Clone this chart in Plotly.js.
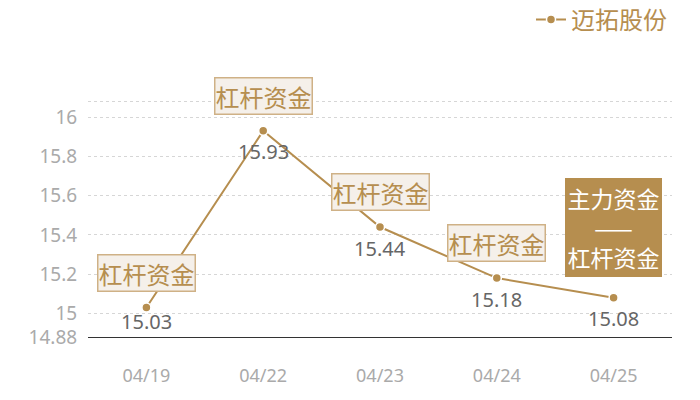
<!DOCTYPE html>
<html>
<head>
<meta charset="utf-8">
<script src="https://cdn.plot.ly/plotly-3.0.1.min.js"></script>
<style>
  body { margin: 0; background: #fff; }
  #myDiv { width: 700px; height: 400px; }
</style>
</head>
<body>
<div id="myDiv"></div>
<script>
const dates = ["04/19", "04/22", "04/23", "04/24", "04/25"]
const prices = [15.03, 15.93, 15.44, 15.18, 15.08]
const tags = ["杠杆资金", "杠杆资金", "杠杆资金", "杠杆资金", "主力资金<br>——<br>杠杆资金"]
const yTicks = [14.88, 15, 15.2, 15.4, 15.6, 15.8, 16, 16.08]
const yTickText = ["14.88", "15", "15.2", "15.4", "15.6", "15.8", "16", ""]
const seriesName = "迈拓股份"

const gold = "#b68e4f"
const cjk = "'Noto Sans CJK SC', 'Noto Sans', sans-serif"
const num = "'Noto Sans', 'Open Sans', sans-serif"

const trace = {
  x: dates,
  y: prices,
  name: seriesName,
  type: "scatter",
  mode: "lines+markers",
  line: { color: gold, width: 2 },
  marker: { color: gold, size: 9, line: { color: "#fff", width: 1.5 } },
  showlegend: true,
  hoverinfo: "skip",
}

let annotations = []

// value labels under points
for (let i = 0; i < dates.length; i++) {
  annotations.push({
    x: dates[i],
    y: prices[i],
    text: prices[i].toFixed(2),
    showarrow: false,
    yshift: i == 0 ? -14 : -21,
    font: { family: num, size: 20, color: "#666" },
  })
}

// tag boxes above points
for (let i = 0; i < dates.length; i++) {
  const last = i == dates.length - 1
  annotations.push({
    x: dates[i],
    y: prices[i],
    text: tags[i],
    showarrow: false,
    yshift: last ? 70 : 35,
    font: { family: cjk, size: last ? 23 : 24, color: last ? "#fff" : gold },
    bgcolor: last ? gold : "#f5f0ea",
    bordercolor: last ? gold : "#cfb186",
    borderwidth: 1.5,
    borderpad: last ? 1 : 0,
    align: "center",
  })
}

const layout = {
  width: 700,
  height: 400,
  margin: { l: 88, r: 28, t: 100, b: 63, autoexpand: false },
  paper_bgcolor: "#fff",
  plot_bgcolor: "#fff",
  xaxis: {
    type: "category",
    range: [-0.5, 4.5],
    showgrid: false,
    zeroline: false,
    showline: true,
    linecolor: "#333",
    linewidth: 1.2,
    ticks: "outside",
    ticklen: 22,
    tickcolor: "rgba(0,0,0,0)",
    tickfont: { family: num, size: 18, color: "#aaa" },
    fixedrange: true,
  },
  yaxis: {
    range: [14.88, 16.087],
    tickvals: yTicks,
    ticktext: yTickText,
    showgrid: true,
    gridcolor: "#d6d6d6",
    griddash: "dot",
    gridwidth: 1,
    zeroline: false,
    showline: false,
    ticks: "outside",
    ticklen: 6,
    tickcolor: "rgba(0,0,0,0)",
    tickfont: { family: num, size: 19, color: "#aaa" },
    fixedrange: true,
  },
  legend: {
    x: 1,
    xanchor: "right",
    y: 1.338,
    yanchor: "middle",
    font: { family: cjk, size: 24, color: gold },
    bgcolor: "rgba(0,0,0,0)",
    itemwidth: 30,
  },
  annotations: annotations,
}

Plotly.newPlot("myDiv", [trace], layout, { displayModeBar: false, staticPlot: true })
</script>
</body>
</html>
